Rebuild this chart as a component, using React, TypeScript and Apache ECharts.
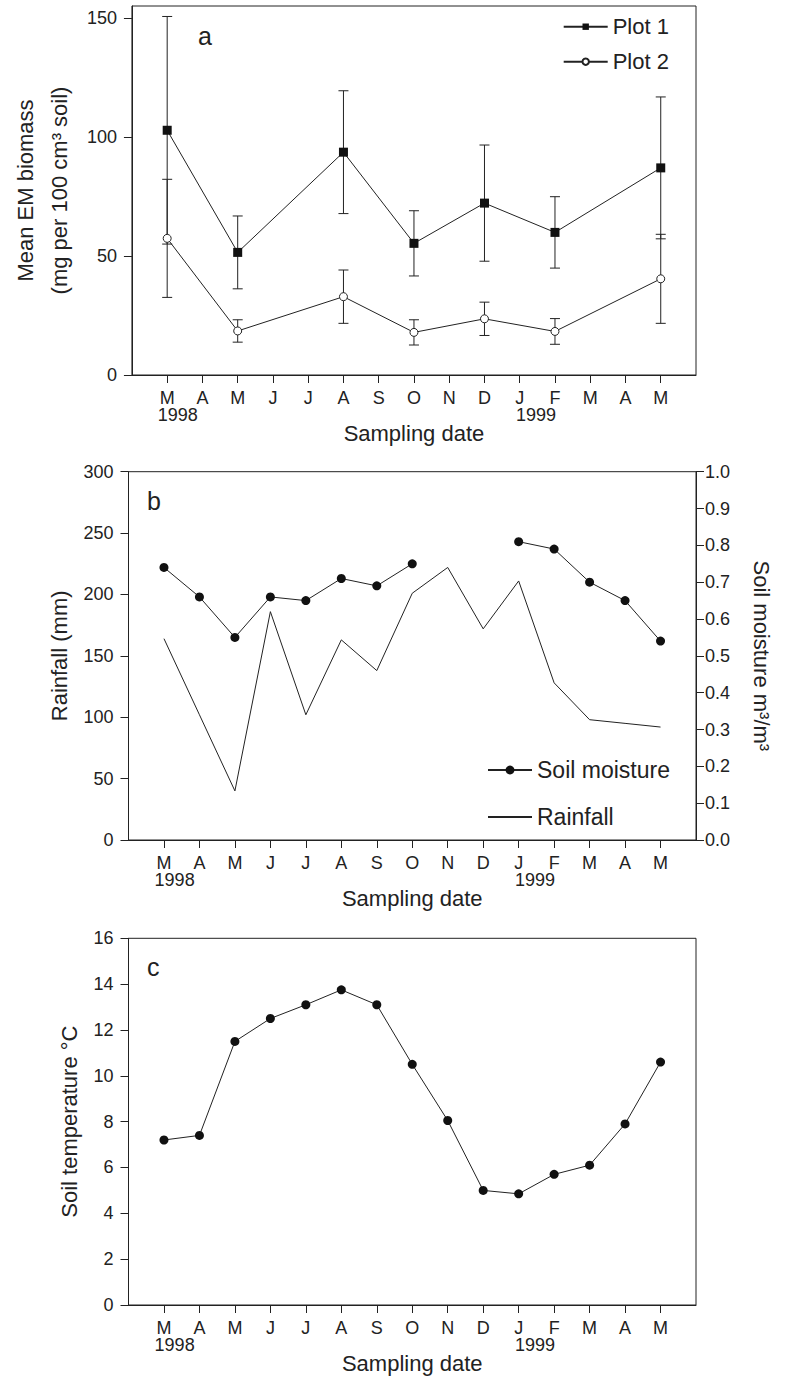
import React, { useEffect, useRef } from 'react';
import * as echarts from 'echarts';

// ---------- data ----------
const months = ['M', 'A', 'M', 'J', 'J', 'A', 'S', 'O', 'N', 'D', 'J', 'F', 'M', 'A', 'M'];
const monthIdx = months.map((_, i) => i);
// year captions and the (fractional) month position they are centred on
const yearLabels = ['1998', '1999'];
const yearPos = [0.3, 10.46];

// Panel a: mean EM biomass (sampled months only)
const biomassIdx = [0, 2, 5, 7, 9, 11, 14];
const plot1Mean = [102.8, 51.5, 93.6, 55.3, 72.2, 59.9, 87.0];
const plot1Err = [47.8, 15.3, 25.8, 13.7, 24.4, 15.0, 29.8];
const plot2Mean = [57.4, 18.5, 32.9, 17.9, 23.6, 18.3, 40.4];
const plot2Err = [24.8, 4.7, 11.2, 5.3, 7.0, 5.4, 18.7];

// Panel b
const rainfall = [164, 102, 40, 186, 102, 163, 138, 201, 222, 172, 211, 128, 98, 95, 92];
const soilMoisture = [0.74, 0.66, 0.55, 0.66, 0.65, 0.71, 0.69, 0.75, null, null, 0.81, 0.79, 0.70, 0.65, 0.54];

// Panel c
const soilTemp = [7.2, 7.4, 11.5, 12.5, 13.1, 13.75, 13.1, 10.5, 8.05, 5.0, 4.85, 5.7, 6.1, 7.9, 10.6];

// tick values
const biomassTicks = [0, 50, 100, 150];
const rainfallTicks = [0, 50, 100, 150, 200, 250, 300];
const moistureTicks = [0, 0.1, 0.2, 0.3, 0.4, 0.5, 0.6, 0.7, 0.8, 0.9, 1.0];
const tempTicks = [0, 2, 4, 6, 8, 10, 12, 14, 16];

const INK = '#222';
const FONT = '"Liberation Sans", Arial, Helvetica, sans-serif';

function xAxisFor(gridIndex: number) {
  return {
    type: 'value',
    gridIndex,
    min: -1,
    max: 15,
    interval: 1,
    axisLine: { show: true, onZero: false, lineStyle: { color: INK, width: 1 } },
    axisTick: { show: true, inside: false, length: 8, customValues: monthIdx, lineStyle: { color: INK, width: 1 } },
    axisLabel: {
      customValues: monthIdx,
      showMinLabel: true,
      showMaxLabel: true,
      margin: 14,
      fontSize: 18,
      lineHeight: 17,
      color: INK,
      fontFamily: FONT,
      formatter: (v: number) => months[Math.round(v)] ?? '',
    },
    splitLine: { show: false },
    name: 'Sampling date',
    nameLocation: 'middle',
    nameGap: 45,
    nameTextStyle: { fontSize: 22, lineHeight: 26, color: INK, fontFamily: FONT },
  };
}

function yAxisFor(gridIndex: number, min: number, max: number, ticks: number[], name: string, nameGap: number, extra: any = {}) {
  return {
    type: 'value',
    gridIndex,
    min,
    max,
    axisLine: { show: true, onZero: false, lineStyle: { color: INK, width: 1 } },
    axisTick: { show: true, inside: false, length: 8, customValues: ticks, lineStyle: { color: INK, width: 1 } },
    axisLabel: { customValues: ticks, showMinLabel: true, showMaxLabel: true, margin: 15, fontSize: 18, color: INK, fontFamily: FONT },
    splitLine: { show: false },
    name,
    nameLocation: 'middle',
    nameRotate: 90,
    nameGap,
    nameTextStyle: { fontSize: 22, lineHeight: 26, color: INK, fontFamily: FONT },
    ...extra,
  };
}

function errorSeries(name: string, xAxisIndex: number, yAxisIndex: number, mean: number[], err: number[]) {
  return {
    type: 'custom',
    name,
    xAxisIndex,
    yAxisIndex,
    encode: { x: 0, y: [1, 2] },
    data: biomassIdx.map((x, k) => [x, mean[k] - err[k], mean[k] + err[k]]),
    renderItem: (params: any, api: any) => {
      const x = api.value(0);
      const pLo = api.coord([x, api.value(1)]);
      const pHi = api.coord([x, api.value(2)]);
      const hw = 5;
      const st = { stroke: INK, lineWidth: 1 };
      return {
        type: 'group',
        children: [
          { type: 'line', shape: { x1: pHi[0], y1: pHi[1], x2: pLo[0], y2: pLo[1] }, style: st },
          { type: 'line', shape: { x1: pHi[0] - hw, y1: pHi[1], x2: pHi[0] + hw, y2: pHi[1] }, style: st },
          { type: 'line', shape: { x1: pLo[0] - hw, y1: pLo[1], x2: pLo[0] + hw, y2: pLo[1] }, style: st },
        ],
      };
    },
    silent: true,
    z: 1,
  };
}

export default function App() {
  const ref = useRef<HTMLDivElement>(null);

  useEffect(() => {
    if (!ref.current) return;
    const chart = echarts.init(ref.current, null, { renderer: 'svg' });

    const grids = [
      { left: 128.5, top: 6, width: 567.5, height: 369 },
      { left: 128.5, top: 471.7, width: 567.5, height: 368.3 },
      { left: 128.5, top: 938.3, width: 567.5, height: 368.4 },
    ].map((g) => ({ ...g, show: true, borderColor: INK, borderWidth: 1, backgroundColor: 'transparent', containLabel: false }));

    const lineStyle = { color: INK, width: 1 };

    const panelLetters = [
      { id: 'la', type: 'text', left: 198, top: 23, style: { text: 'a', fontSize: 25, fill: INK, fontFamily: FONT } },
      { id: 'lb', type: 'text', left: 147, top: 488, style: { text: 'b', fontSize: 25, fill: INK, fontFamily: FONT } },
      { id: 'lc', type: 'text', left: 147, top: 954, style: { text: 'c', fontSize: 25, fill: INK, fontFamily: FONT } },
    ];

    const option: any = {
      animation: false,
      backgroundColor: '#fff',
      textStyle: { fontFamily: FONT },
      grid: grids,
      xAxis: [xAxisFor(0), xAxisFor(1), xAxisFor(2)],
      yAxis: [
        yAxisFor(0, 0, 155, biomassTicks, 'Mean EM biomass\n(mg per 100 cm³ soil)', 50, {
          nameTextStyle: { fontSize: 22, lineHeight: 34, color: INK, fontFamily: FONT },
        }),
        yAxisFor(1, 0, 300, rainfallTicks, 'Rainfall (mm)', 54),
        yAxisFor(1, 0, 1, moistureTicks, 'Soil moisture m³/m³', 52, {
          position: 'right',
          nameRotate: -90,
          axisLabel: {
            customValues: moistureTicks,
            showMinLabel: true,
            showMaxLabel: true,
            margin: 9,
            fontSize: 18,
            color: INK,
            fontFamily: FONT,
            formatter: (v: number) => v.toFixed(1),
          },
        }),
        yAxisFor(2, 0, 16, tempTicks, 'Soil temperature °C', 45),
      ],
      legend: [
        {
          data: ['Plot 1', 'Plot 2'],
          orient: 'vertical',
          left: 562.7,
          top: 14.7,
          padding: 0,
          itemWidth: 44,
          itemHeight: 8,
          itemGap: 11,
          textStyle: { fontSize: 22, lineHeight: 24, color: INK, fontFamily: FONT },
          selectedMode: false,
        },
        {
          data: ['Soil moisture', { name: 'Rainfall', itemStyle: { opacity: 0 } }],
          orient: 'vertical',
          left: 487,
          top: 757,
          padding: 0,
          itemWidth: 44,
          itemHeight: 11,
          itemGap: 21,
          textStyle: { fontSize: 23, lineHeight: 26, color: INK, fontFamily: FONT },
          selectedMode: false,
        },
      ],
      graphic: panelLetters,
      series: [
        errorSeries('Plot 1 SE', 0, 0, plot1Mean, plot1Err),
        errorSeries('Plot 2 SE', 0, 0, plot2Mean, plot2Err),
        {
          type: 'line',
          name: 'Plot 1',
          xAxisIndex: 0,
          yAxisIndex: 0,
          data: biomassIdx.map((x, k) => [x, plot1Mean[k]]),
          symbol: 'rect',
          symbolSize: 9,
          lineStyle,
          itemStyle: { color: '#111', borderWidth: 0 },
          z: 3,
        },
        {
          type: 'line',
          name: 'Plot 2',
          xAxisIndex: 0,
          yAxisIndex: 0,
          data: biomassIdx.map((x, k) => [x, plot2Mean[k]]),
          symbol: 'circle',
          symbolSize: 8,
          lineStyle,
          itemStyle: { color: '#fff', borderColor: INK, borderWidth: 1 },
          z: 3,
        },
        {
          type: 'line',
          name: 'Rainfall',
          xAxisIndex: 1,
          yAxisIndex: 1,
          data: rainfall.map((v, i) => [i, v]),
          symbol: 'none',
          lineStyle,
          itemStyle: { color: INK },
        },
        {
          type: 'line',
          name: 'Soil moisture',
          xAxisIndex: 1,
          yAxisIndex: 2,
          data: soilMoisture.map((v, i) => [i, v]),
          connectNulls: false,
          symbol: 'circle',
          symbolSize: 9,
          lineStyle,
          itemStyle: { color: '#111' },
          z: 3,
        },
        {
          type: 'line',
          name: 'Soil temperature',
          xAxisIndex: 2,
          yAxisIndex: 3,
          data: soilTemp.map((v, i) => [i, v]),
          symbol: 'circle',
          symbolSize: 9,
          lineStyle,
          itemStyle: { color: '#111' },
          z: 3,
        },
      ],
    };

    chart.setOption(option);

    // year captions under the month labels, placed through the axes' own scales
    const yAxisForGrid = [0, 1, 3];
    const yearOffset = 40;
    const years: any[] = [];
    [0, 1, 2].forEach((g) => {
      const baseY = chart.convertToPixel({ yAxisIndex: yAxisForGrid[g] }, 0) as number;
      yearLabels.forEach((txt, k) => {
        const px = chart.convertToPixel({ xAxisIndex: g }, yearPos[k]) as number;
        years.push({
          id: `yr${g}_${k}`,
          type: 'text',
          x: px,
          y: baseY + yearOffset,
          style: {
            text: txt,
            fontSize: 18,
            fill: INK,
            fontFamily: FONT,
            textAlign: 'center',
            textVerticalAlign: 'middle',
          },
        });
      });
    });
    chart.setOption({ graphic: [...panelLetters, ...years] });

    return () => {
      chart.dispose();
    };
  }, []);

  return (
    <div
      ref={ref}
      style={{ position: 'absolute', left: 0, top: 0, width: 790, height: 1377, background: '#fff' }}
    />
  );
}
